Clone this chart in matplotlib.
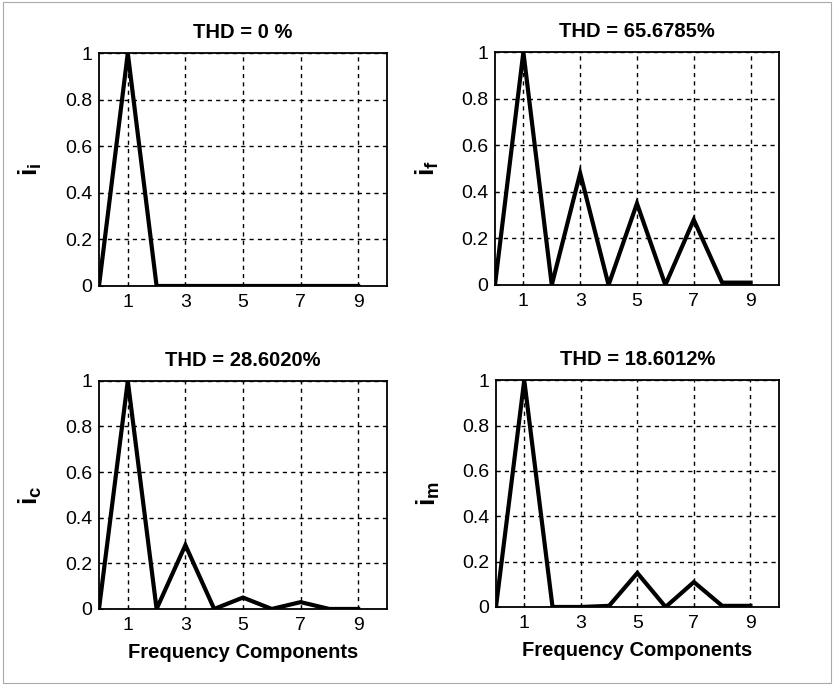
import numpy as np
import matplotlib
matplotlib.use('Agg')
import matplotlib.pyplot as plt

# armonicos 0..9 (normalizados a la fundamental)
armonicos = [0, 1, 2, 3, 4, 5, 6, 7, 8, 9]
i_i = [0, 1, 0, 0, 0, 0, 0, 0, 0, 0]
i_f = [0, 1, 0, 0.48, 0, 0.35, 0, 0.28, 0.01, 0.01]
i_c = [0, 1, 0, 0.28, 0, 0.05, 0, 0.03, 0, 0]
i_m = [0, 1, 0, 0, 0.005, 0.15, 0, 0.11, 0.005, 0.005]

titulos = ['THD = 0 %', 'THD = 65.6785%', 'THD = 28.6020%', 'THD = 18.6012%']
etiquetas_y = [r'$\mathbf{i_i}$', r'$\mathbf{i_f}$', r'$\mathbf{i_c}$', r'$\mathbf{i_m}$']
xticks = [1, 3, 5, 7, 9]
yticks = [0, 0.2, 0.4, 0.6, 0.8, 1]

plt.rcParams['font.family'] = ['Liberation Sans', 'DejaVu Sans']
plt.rcParams['mathtext.fontset'] = 'custom'
plt.rcParams['mathtext.rm'] = 'Liberation Sans'
plt.rcParams['mathtext.bf'] = 'Liberation Sans:bold'
plt.rcParams['mathtext.it'] = 'Liberation Sans:italic'

fig = plt.figure(figsize=(8.34, 6.85), dpi=100)

posiciones = [
    [0.1187, 0.5825, 0.3453, 0.340],
    [0.5935, 0.584, 0.3405, 0.340],
    [0.1187, 0.111, 0.3453, 0.333],
    [0.5947, 0.1139, 0.339, 0.331],
]
series = [i_i, i_f, i_c, i_m]

for k in range(4):
    ax = fig.add_axes(posiciones[k])
    ax.plot(armonicos, series[k], color='black', linewidth=3.0, solid_joinstyle='miter')
    ax.set_xlim(0, 10)
    ax.set_ylim(0, 1)
    ax.set_xticks(xticks)
    ax.set_yticks(yticks)
    ax.set_yticklabels(['0', '0.2', '0.4', '0.6', '0.8', '1'])
    ax.grid(True, color='black', linestyle=(0, (3, 3)), linewidth=1.0)
    ax.tick_params(direction='in', length=3, labelsize=14, width=0.8)
    ax.tick_params(axis='x', pad=6)
    ax.tick_params(axis='y', pad=5)
    for s in ax.spines.values():
        s.set_linewidth(1.3)
    ax.set_title(titulos[k], fontsize=14.5, fontweight='bold', pad=11)
    ax.set_ylabel(etiquetas_y[k], fontsize=19)
    ax.yaxis.set_label_coords(-0.19, 0.5)
    if k >= 2:
        ax.set_xlabel('Frequency Components', fontsize=14.5, fontweight='bold', labelpad=6)

# borde exterior de la figura
fig.patches.append(plt.Rectangle((0.003, 0.003), 0.994, 0.994, transform=fig.transFigure,
                                 fill=False, edgecolor='#aaaaaa', linewidth=0.8))

plt.savefig('out.png', dpi=100)
